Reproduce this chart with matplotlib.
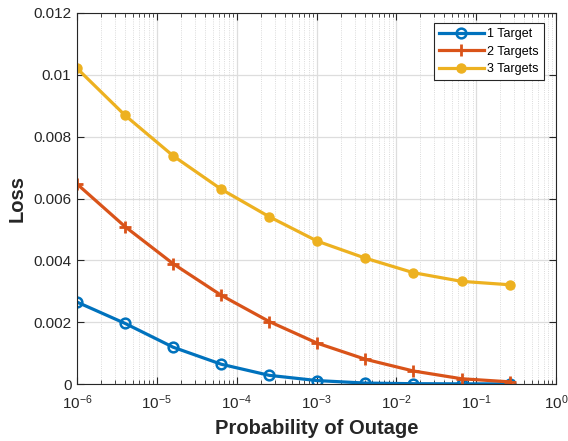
import numpy as np
import matplotlib.pyplot as plt
from matplotlib.ticker import FixedLocator, NullFormatter

plt.rcParams['font.family'] = ['Liberation Sans', 'DejaVu Sans']
plt.rcParams['mathtext.fontset'] = 'custom'
plt.rcParams['mathtext.rm'] = 'Liberation Sans'
plt.rcParams['mathtext.it'] = 'Liberation Sans'

# outage probability: 1e-6 * 4^k
p_outage = [1e-6, 4e-6, 1.6e-5, 6.4e-5, 2.56e-4, 1.024e-3, 4.096e-3, 1.6384e-2, 6.5536e-2, 2.62144e-1]
loss_1 = [0.00265, 0.00196, 0.00119, 0.00064, 0.00028, 0.00011, 0.00003, 0.00001, 0.000005, 0.000003]
loss_2 = [0.00647, 0.00509, 0.00389, 0.00287, 0.00202, 0.00132, 0.00080, 0.00042, 0.00017, 0.00007]
loss_3 = [0.01021, 0.00869, 0.00738, 0.00630, 0.00541, 0.00462, 0.00407, 0.00360, 0.00332, 0.00321]

x_decades = [-6, -5, -4, -3, -2, -1, 0]
y_ticks = [0, 0.002, 0.004, 0.006, 0.008, 0.01, 0.012]
y_ticklabels = ['0', '0.002', '0.004', '0.006', '0.008', '0.01', '0.012']

fig = plt.figure(figsize=(5.68, 4.41), dpi=100)
ax = fig.add_axes([77/568, 1 - 384/441, 479/568, 371/441])

ax.plot(p_outage, loss_1, color='#0072BD', lw=2.3, marker='o', ms=7,
        mfc='none', mew=1.8, label='1 Target')
ax.plot(p_outage, loss_2, color='#D95319', lw=2.3, marker='+', ms=8,
        mew=2, label='2 Targets')
ax.plot(p_outage, loss_3, color='#EDB120', lw=2.3, marker='o', ms=6.5,
        label='3 Targets')

ax.set_xscale('log')
ax.set_xlim(1e-6, 1)
ax.set_ylim(0, 0.012)
ax.set_xticks([10.0**d for d in x_decades])
ax.set_xticklabels(['$10^{%d}$' % d for d in x_decades])
ax.set_yticks(y_ticks)
ax.set_yticklabels(y_ticklabels)
minors = [m * 10.0**d for d in x_decades[:-1] for m in range(2, 10)]
ax.xaxis.set_minor_locator(FixedLocator(minors))
ax.xaxis.set_minor_formatter(NullFormatter())

ax.grid(True, which='major', color='#dddddd', lw=0.9)
ax.grid(True, which='minor', axis='x', color='#cfcfcf', lw=0.6, linestyle=':')
ax.set_axisbelow(True)

ax.tick_params(which='both', direction='in', top=True, right=True,
               labelsize=11, colors='#262626')
ax.tick_params(which='major', length=5)
ax.tick_params(which='minor', length=3)
ax.tick_params(axis='x', which='major', pad=7)
ax.tick_params(axis='y', which='major', pad=4)
for s in ax.spines.values():
    s.set_color('#262626')
    s.set_linewidth(0.8)

ax.set_xlabel('Probability of Outage', fontsize=14.5, fontweight='bold', color='#262626')
ax.set_ylabel('Loss', fontsize=14.5, fontweight='bold', color='#262626')
ax.xaxis.set_label_coords(0.5, -(428 - 384) / 371)
ax.yaxis.set_label_coords(-(77 - 17) / 479, 0.5)
ax.xaxis.label.set_va('center')
ax.yaxis.label.set_va('center')

leg = ax.legend(loc='upper right', bbox_to_anchor=(544/568, 1 - 23/441),
                bbox_transform=fig.transFigure, borderaxespad=0,
                fontsize=9, fancybox=False, framealpha=1,
                edgecolor='#262626', handlelength=3.6, labelspacing=0.45,
                handletextpad=0.3, borderpad=0.4)
leg.get_frame().set_linewidth(0.8)

fig.savefig('out.png', dpi=100)
